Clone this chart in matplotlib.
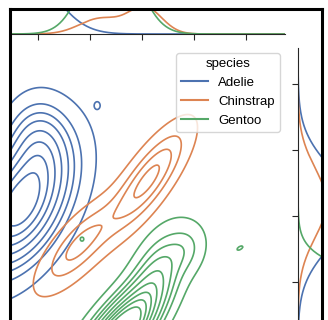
import numpy as np
import matplotlib.pyplot as plt
from matplotlib.lines import Line2D

plt.rcParams['font.family'] = ['Liberation Sans', 'DejaVu Sans']

species = ['Adelie', 'Chinstrap', 'Gentoo']
colors = ['#4c72b0', '#dd8452', '#55a868']

# bill length (x) vs bill depth (y) density, as gaussian pieces:
# centre x, centre y, sd x, sd y, correlation, weight
adelie_kde = [
    [38.3, 18.35, 3.0, 1.25, 0.45, 0.40],
    [40.0, 20.3, 1.8, 0.8, 0.0, 0.05],
    [45.7, 21.35, 0.22, 0.09, 0.0, 0.0002],
]
chinstrap_kde = [
    [50.6, 19.1, 2.4, 1.0, 0.8, 0.065],
    [43.9, 17.1, 2.4, 0.85, 0.75, 0.045],
]
gentoo_kde = [
    [47.5, 14.3, 2.6, 1.0, 0.75, 0.30],
    [51.5, 16.4, 1.7, 0.8, 0.5, 0.04],
    [54.4, 17.0, 1.2, 0.5, 0.2, 0.009],
    [44.23, 17.30, 0.45, 0.16, 0.0, 0.0005],
    [59.42, 17.03, 0.35, 0.08, 0.6, 0.0002],
]

# marginal curves: centre, sd, peak height
adelie_marg_x = [[38.5, 3.0, 2.6]]
chinstrap_marg_x = [[46.0, 2.0, 0.62], [50.3, 1.6, 1.05]]
gentoo_marg_x = [[47.0, 2.33, 4.0]]
adelie_marg_y = [[18.28, 1.17, 2.26]]
chinstrap_marg_y = [[18.4, 1.05, 1.18]]
gentoo_marg_y = [[15.0, 0.87, 7.8]]

x_ticks = [40, 45, 50, 55, 60]
y_ticks = [16, 18, 20, 22]


def density2d(X, Y, parts):
    Z = np.zeros_like(X)
    for mx, my, sx, sy, r, w in parts:
        dx = (X - mx) / sx
        dy = (Y - my) / sy
        q = (dx**2 - 2 * r * dx * dy + dy**2) / (1 - r**2)
        Z += w * np.exp(-q / 2) / (2 * np.pi * sx * sy * np.sqrt(1 - r**2))
    return Z


def curve(t, parts):
    return sum(h * np.exp(-(t - m)**2 / (2 * s**2)) for m, s, h in parts)


gx = np.linspace(30, 70, 500)
gy = np.linspace(10, 26, 400)
X, Y = np.meshgrid(gx, gy)
dens = [density2d(X, Y, p) for p in (adelie_kde, chinstrap_kde, gentoo_kde)]

# iso-proportion levels shared by the three species
vals = np.sort(np.concatenate([d.ravel() for d in dens]))[::-1]
cum = np.cumsum(vals) / vals.sum()
props = np.linspace(0.05, 1, 10)
levels = np.unique(vals[np.clip(np.searchsorted(cum, 1 - props), 0, len(vals) - 1)])

W, H = 328, 320
fig = plt.figure(figsize=(W / 100, H / 100), dpi=100)


def box(l, t, r, b):
    return [l / W, 1 - b / H, (r - l) / W, (b - t) / H]


ax = fig.add_axes(box(11, 48, 285, 320))
ax_x = fig.add_axes(box(11, 9, 285, 34), sharex=ax)
ax_y = fig.add_axes(box(298, 48, 322, 320), sharey=ax)

for d, c in zip(dens, colors):
    ax.contour(X, Y, d, levels=levels, colors=c, linewidths=1.2)
ax.set_xlim(37.4, 63.75)
ax.set_ylim(14.85, 23.09)
for s in ax.spines.values():
    s.set_visible(False)
ax.tick_params(left=False, bottom=False, labelleft=False, labelbottom=False)

for parts, c in zip((adelie_marg_x, chinstrap_marg_x, gentoo_marg_x), colors):
    ax_x.plot(gx, curve(gx, parts), color=c, lw=1.2)
ax_x.set_ylim(0, 1)
ax_x.set_xticks(x_ticks)
for side in ['left', 'top', 'right']:
    ax_x.spines[side].set_visible(False)
ax_x.spines['bottom'].set_color('0.15')
ax_x.tick_params(axis='x', length=4, color='0.15', labelbottom=False)
ax_x.tick_params(axis='y', left=False, labelleft=False)

for parts, c in zip((adelie_marg_y, chinstrap_marg_y, gentoo_marg_y), colors):
    ax_y.plot(curve(gy, parts), gy, color=c, lw=1.2)
ax_y.set_xlim(0, 1)
ax_y.set_yticks(y_ticks)
for side in ['bottom', 'top', 'right']:
    ax_y.spines[side].set_visible(False)
ax_y.spines['left'].set_color('0.15')
ax_y.tick_params(axis='y', length=4, color='0.15', labelleft=False)
ax_y.tick_params(axis='x', bottom=False, labelbottom=False)

handles = [Line2D([], [], color=c, lw=1.5) for c in colors]
ax.legend(handles, species, title='species', fontsize=9.5, title_fontsize=9.5,
          loc='upper right', bbox_to_anchor=(280 / W, 1 - 53 / H),
          bbox_transform=fig.transFigure, borderaxespad=0)

# black frame round the plot
frame = dict(transform=fig.transFigure, color='black', lw=2.2,
             solid_capstyle='projecting')
fig.add_artist(Line2D([10 / W, 10 / W], [1 - 9 / H, 0], **frame))
fig.add_artist(Line2D([10 / W, 322 / W], [1 - 9 / H, 1 - 9 / H], **frame))
fig.add_artist(Line2D([322 / W, 322 / W], [1 - 9 / H, 0], **frame))

fig.savefig('out.png', dpi=100)
